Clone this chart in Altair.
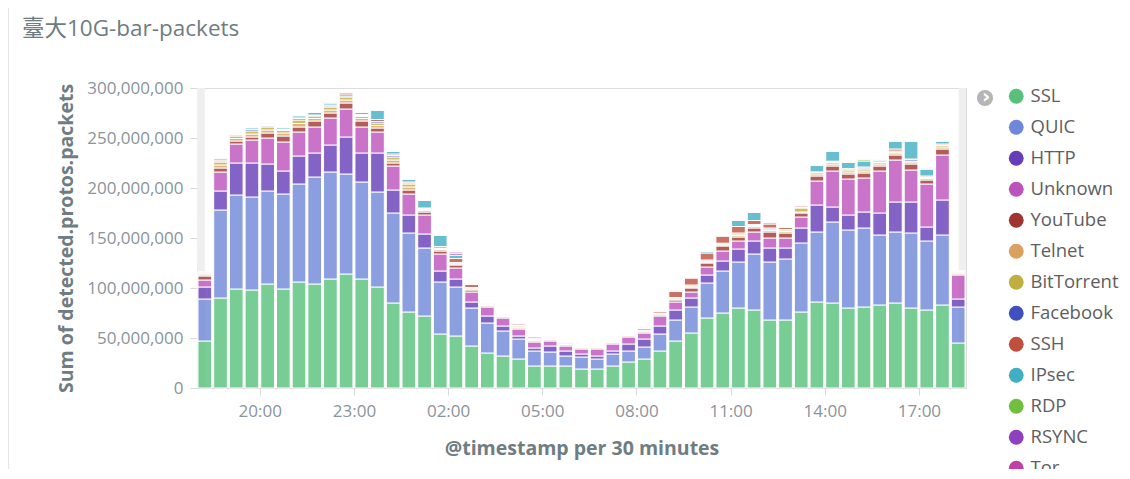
import altair as alt
import pandas as pd

series = ["SSL", "QUIC", "HTTP", "Unknown", "YouTube", "Telnet", "BitTorrent",
          "Facebook", "SSH", "IPsec", "RDP", "RSYNC", "Tor"]
colors = ["#57c17b", "#6f87d8", "#663db8", "#bc52bc", "#9e3533", "#daa05d", "#bfaf40",
          "#4050bf", "#bf5040", "#40aec3", "#70bf40", "#8e40bf", "#bf40a6"]

# values in millions of packets, one per 30-minute bucket (18:00 .. 18:00 next day)
ssl = [47, 90, 99, 98, 104, 99, 106, 104, 109, 114, 109, 101, 85, 76, 72, 54, 52, 42, 35, 32,
       29, 22, 22, 22, 19, 19, 22, 26, 29, 37, 47, 55, 70, 75, 80, 78, 68, 68, 76, 86,
       85, 80, 81, 83, 85, 80, 78, 83, 45]
quic = [42, 88, 94, 93, 93, 95, 98, 107, 107, 100, 97, 95, 90, 79, 68, 52, 49, 38, 30, 25,
        20, 15, 14, 10, 12, 10, 12, 11, 12, 17, 21, 26, 35, 42, 46, 56, 58, 61, 69, 70,
        81, 78, 79, 70, 71, 75, 69, 70, 36]
http = [12, 19, 32, 34, 27, 23, 28, 24, 27, 37, 29, 39, 23, 18, 14, 11, 8, 6, 7, 5,
        3, 3, 6, 5, 3, 3, 3, 7, 8, 8, 10, 9, 8, 10, 13, 13, 14, 11, 15, 27,
        15, 15, 16, 22, 30, 31, 14, 35, 8]
unknown = [7, 19, 19, 23, 26, 29, 24, 26, 27, 28, 26, 21, 24, 21, 19, 17, 11, 10, 9, 8,
           7, 6, 5, 5, 5, 7, 7, 7, 6, 10, 8, 6, 8, 10, 8, 9, 10, 10, 11, 24,
           36, 36, 34, 42, 42, 32, 43, 45, 24]
youtube = [4, 4, 3, 3, 5, 6, 5, 6, 5, 6, 6, 4, 3, 4, 3, 3, 3, 2, 1, 1,
           1, 1, 1, 1, 1, 1, 1, 1, 1, 1, 2, 4, 4, 5, 4, 4, 6, 5, 4, 5,
           5, 5, 5, 5, 5, 6, 4, 6, 1]
telnet = [1.2, 3, 2.5, 3, 3, 3, 3.5, 2.5, 3, 3, 2.5, 2.5, 3, 3, 1.5, 1.5, 1, 1, 0.5, 0.5,
          1, 0.7, 0.5, 0.5, 0.3, 0.3, 0.6, 0.6, 0.8, 0.8, 1, 1, 1, 1, 1.5, 1.5, 1.5, 1.5, 1, 2,
          2, 2, 2, 2, 2, 2, 1.5, 2, 0.8]
bittorrent = [1, 3, 2.5, 3, 3, 2.5, 3.5, 2.5, 3, 3, 2, 2.5, 3, 3, 1, 1, 1, 1, 0.5, 0.5,
              1, 0.5, 0.5, 0.5, 0.3, 0.2, 0.4, 0.4, 0.6, 0.6, 1, 1, 1, 1, 1.5, 1, 1.5, 1.5, 4, 1.5,
              1.5, 2, 2, 1.5, 1, 1, 1, 1.5, 0.6]
facebook = [0.5, 1, 1, 1.5, 1, 1, 1.5, 0.5, 1, 1, 1, 1.5, 1.5, 1, 1, 0.5, 0.5, 0.5, 0.5, 0.5,
            0.5, 0.4, 0.3, 0.3, 0.1, 0.2, 0.3, 0.3, 0.5, 0.5, 0.5, 1, 1, 0.8, 1, 1, 1, 0.5, 0.5, 0.3,
            1, 1, 1, 1.5, 1, 1.5, 0.5, 0.5, 0.4]
ssh = [0.5, 1, 0.5, 0.5, 0.5, 0.5, 1.5, 0.5, 1, 2, 1, 2, 1.5, 1, 0.5, 1.5, 4, 3, 0.5, 0.5,
       1.5, 0.5, 0.4, 0.9, 0.1, 0.1, 0.4, 0.4, 1.5, 1.5, 6, 7, 7, 7, 6.5, 4, 4, 2, 1.5, 0.3,
       0.3, 0.3, 1, 0.3, 2, 0.5, 1, 1, 0.5]
ipsec = [0.4, 1.5, 1, 1.5, 1, 1.5, 1.5, 2.5, 2, 1.5, 2, 9, 2.5, 2.5, 7.5, 11, 3, 0.8, 0.5, 0.5,
         0.5, 0.3, 0.3, 0.3, 0.1, 0.1, 0.2, 0.2, 0.4, 0.4, 0.5, 0.3, 1.5, 0.8, 6, 8, 1.5, 0.3, 0.8, 6.5,
         10, 6.5, 6, 1.5, 7.8, 17.8, 7, 2.8, 0.4]
rdp = [0.1, 0.2, 0.3, 0.2, 1, 0.3, 0.2, 0.2, 0.2, 0.2, 0.2, 0.2, 0.2, 0.2, 0.2, 0.2, 0.3, 0.2, 0.2, 0.2,
       0.2, 0.2, 1, 0.2, 0.05, 0.05, 0.05, 0.05, 0.1, 0.1, 0.8, 0.2, 0.2, 0.2, 0.2, 0.2, 0.2, 0.1, 0.1, 0.3,
       0.1, 0.1, 1.8, 0.1, 0.1, 0.1, 0.2, 0.1, 0.1]
rsync = [0.2, 0.2, 0.1, 0.2, 0.3, 0.1, 0.2, 0.2, 0.6, 0.2, 0.2, 0.2, 0.2, 0.2, 0.2, 0.2, 2, 0.3, 0.2, 0.2,
         0.2, 0.2, 0.1, 0.2, 0.05, 0.05, 0.05, 0.05, 0.1, 0.1, 0.1, 0.4, 0.2, 0.1, 0.2, 0.2, 0.2, 0.05, 0.05, 0.05,
         0.05, 0.05, 0.1, 0.05, 0.05, 0.05, 0.1, 0.05, 0.1]
tor = [0.1, 0.1, 0.1, 0.1, 0.2, 0.1, 0.1, 0.1, 0.2, 0.1, 0.1, 0.1, 0.1, 0.1, 0.1, 0.1, 1.2, 0.2, 0.1, 0.1,
       0.1, 1.2, 0.1, 0.1, 0.05, 0.05, 0.05, 0.05, 0.1, 0.1, 0.1, 0.1, 0.1, 0.1, 0.1, 0.1, 0.1, 0.05, 0.05, 0.05,
       0.05, 0.05, 0.1, 0.05, 0.05, 0.05, 0.7, 0.05, 0.1]

all_values = [ssl, quic, http, unknown, youtube, telnet, bittorrent, facebook, ssh,
              ipsec, rdp, rsync, tor]

y_ticks = [0, 50000000, 100000000, 150000000, 200000000, 250000000, 300000000]

fmt = "%Y-%m-%dT%H:%M:%S"
times = pd.date_range("2019-05-20 18:00", periods=49, freq="30min")

rows = []
for k, (name, vals) in enumerate(zip(series, all_values)):
    for i, v in enumerate(vals):
        rows.append({
            "ts": times[i].strftime(fmt),
            "te": (times[i] + pd.Timedelta(minutes=30)).strftime(fmt),
            "value": v * 1e6,
            "series": name,
            "order": k,
        })
df = pd.DataFrame(rows)

partial = pd.DataFrame({
    "s": ["2019-05-20T18:00:00", "2019-05-21T18:16:00"],
    "e": ["2019-05-20T18:15:00", "2019-05-21T18:30:00"],
})

FONT = "Open Sans, Noto Sans CJK TC, sans-serif"
LABEL = "#8a949b"
TITLE = "#6f7c82"

x_dom = [alt.DateTime(year=2019, month=5, date=20, hours=18, minutes=0),
         alt.DateTime(year=2019, month=5, date=21, hours=18, minutes=30)]
x_vals = [alt.DateTime(year=2019, month=5, date=20, hours=20),
          alt.DateTime(year=2019, month=5, date=20, hours=23),
          alt.DateTime(year=2019, month=5, date=21, hours=2),
          alt.DateTime(year=2019, month=5, date=21, hours=5),
          alt.DateTime(year=2019, month=5, date=21, hours=8),
          alt.DateTime(year=2019, month=5, date=21, hours=11),
          alt.DateTime(year=2019, month=5, date=21, hours=14),
          alt.DateTime(year=2019, month=5, date=21, hours=17)]

xscale = alt.Scale(domain=x_dom, nice=False)
yscale = alt.Scale(domain=[0, 300000000], nice=False)

x_axis = alt.Axis(values=x_vals, format="%H:%M", title="@timestamp per 30 minutes",
                  labelFontSize=17, labelColor=LABEL, labelFont=FONT,
                  tickColor="#d9d9d9", tickSize=7, domainColor="#d9d9d9",
                  labelPadding=8, grid=False, titleFont=FONT, titleFontSize=19.5,
                  titleFontWeight="bold", titleColor=TITLE, titlePadding=20)
y_axis = alt.Axis(values=y_ticks, format=",d", title="Sum of detected.protos.packets",
                  labelFontSize=17, labelColor=LABEL, labelFont=FONT,
                  tickColor="#d9d9d9", tickSize=7, domainColor="#d9d9d9",
                  labelPadding=7, grid=False, titleFont=FONT, titleFontSize=19.5,
                  titleFontWeight="bold", titleColor=TITLE, titlePadding=10)

strips = alt.Chart(partial).mark_rect(color="#efefef").encode(
    x=alt.X("s:T", scale=xscale, axis=x_axis),
    x2="e:T",
    y=alt.value(0),
    y2=alt.value(300),
)

bars = alt.Chart(df).transform_stack(
    stack="value", groupby=["ts"], as_=["v0", "v1"],
    sort=[alt.SortField("order", order="ascending")],
).mark_bar(
    opacity=0.8, stroke="white", strokeWidth=1, xOffset=1, x2Offset=-1
).encode(
    x=alt.X("ts:T", scale=xscale, axis=x_axis),
    x2="te:T",
    y=alt.Y("v0:Q", scale=yscale, axis=y_axis),
    y2="v1:Q",
    color=alt.Color("series:N", scale=alt.Scale(domain=series, range=colors),
                    legend=alt.Legend(title=None, orient="none", legendX=810, legendY=-1,
                                      symbolType="circle", symbolSize=220, symbolOpacity=1,
                                      symbolStrokeWidth=0, labelFontSize=18.5, labelFont=FONT,
                                      labelColor="#5e5e5e", rowPadding=12, labelOffset=5,
                                      padding=0)),
)

chev_df = pd.DataFrame({"t": ["›"]})
chev_c = alt.Chart(chev_df).mark_circle(color="#b5b5b5", size=260, opacity=1).encode(
    x=alt.value(788), y=alt.value(10))
chev_t = alt.Chart(chev_df).mark_text(color="white", fontSize=20, fontWeight="bold",
                                      font="DejaVu Sans", baseline="middle", dy=-1).encode(
    x=alt.value(789), y=alt.value(10), text="t:N")
border = alt.Chart(chev_df).mark_rule(color="#d9dde3", strokeWidth=1.5).encode(
    x=alt.value(-189), y=alt.value(-80), y2=alt.value(384))

chart = alt.layer(strips, bars, chev_c, chev_t, border).properties(
    width=769, height=300,
    title=alt.TitleParams("臺大10G-bar-packets", anchor="start", frame="group", dx=-175,
                          fontSize=22.5, font=FONT, color=TITLE, fontWeight="normal",
                          baseline="alphabetic", offset=0, dy=51),
    autosize=alt.AutoSizeParams(type="none"),
    padding={"left": 189, "top": 80, "right": 155, "bottom": 81},
).configure_view(stroke=None).configure(background="white")

chart.save("out.html", embed_options={"renderer": "svg", "actions": False})
